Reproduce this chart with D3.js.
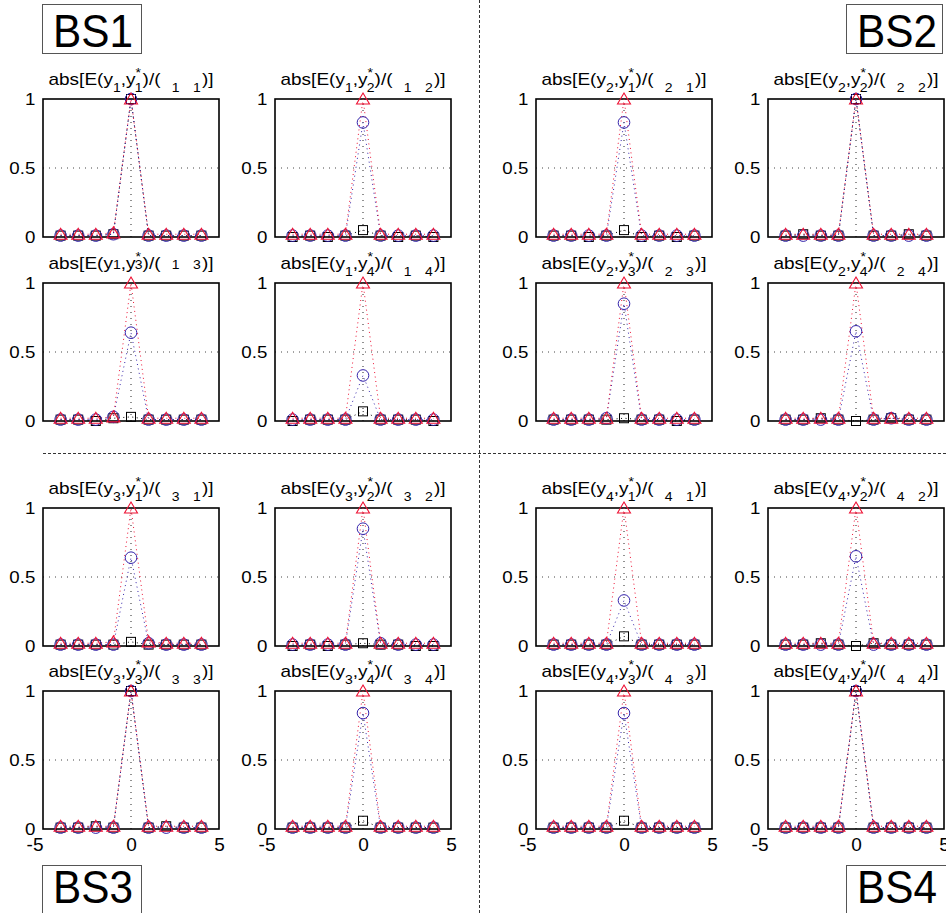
<!DOCTYPE html>
<html>
<head>
<meta charset="utf-8">
<script src="https://cdn.jsdelivr.net/npm/d3@7"></script>
<style>
body { margin: 0; background: #fff; }
text { font-family: "Liberation Sans", Arial, sans-serif; fill: #000; }
</style>
</head>
<body>
<svg id="fig" width="946" height="913"></svg>
<script>
// lags on the x axis
var lags = [-4, -3, -2, -1, 0, 1, 2, 3, 4];

// (i, j) pair of every panel, row by row
var pairs = [
    [1, 1], [1, 2], [2, 1], [2, 2],
    [1, 3], [1, 4], [2, 3], [2, 4],
    [3, 1], [3, 2], [4, 1], [4, 2],
    [3, 3], [3, 4], [4, 3], [4, 4]
];

// black squares
var squareVals = [
    [0.01, 0.01, 0.01, 0.02, 1.00, 0.01, 0.01, 0.01, 0.01],
    [0.00, 0.01, 0.00, 0.01, 0.05, 0.01, 0.00, 0.01, 0.00],
    [0.01, 0.01, 0.00, 0.01, 0.05, 0.00, 0.01, 0.00, 0.01],
    [0.01, 0.02, 0.01, 0.01, 1.00, 0.01, 0.01, 0.02, 0.01],
    [0.01, 0.01, 0.00, 0.02, 0.03, 0.01, 0.01, 0.01, 0.01],
    [0.00, 0.01, 0.01, 0.01, 0.07, 0.01, 0.01, 0.01, 0.00],
    [0.01, 0.01, 0.01, 0.01, 0.02, 0.01, 0.01, 0.00, 0.01],
    [0.01, 0.01, 0.02, 0.01, 0.00, 0.01, 0.02, 0.01, 0.01],
    [0.01, 0.01, 0.01, 0.01, 0.03, 0.01, 0.01, 0.01, 0.01],
    [0.00, 0.01, 0.00, 0.01, 0.02, 0.01, 0.01, 0.00, 0.00],
    [0.01, 0.01, 0.01, 0.01, 0.07, 0.01, 0.01, 0.01, 0.01],
    [0.01, 0.01, 0.02, 0.01, 0.00, 0.02, 0.01, 0.01, 0.01],
    [0.01, 0.01, 0.02, 0.01, 1.00, 0.01, 0.02, 0.01, 0.01],
    [0.01, 0.01, 0.01, 0.01, 0.06, 0.01, 0.01, 0.01, 0.01],
    [0.01, 0.01, 0.01, 0.01, 0.06, 0.01, 0.01, 0.01, 0.01],
    [0.01, 0.01, 0.01, 0.01, 1.00, 0.01, 0.01, 0.01, 0.01]
];

// blue circles
var circleVals = [
    [0.01, 0.01, 0.01, 0.02, 1.00, 0.01, 0.01, 0.01, 0.01],
    [0.01, 0.01, 0.01, 0.01, 0.83, 0.01, 0.01, 0.01, 0.01],
    [0.01, 0.01, 0.01, 0.01, 0.83, 0.01, 0.01, 0.01, 0.01],
    [0.01, 0.01, 0.01, 0.01, 1.00, 0.01, 0.01, 0.01, 0.01],
    [0.01, 0.01, 0.01, 0.03, 0.64, 0.01, 0.01, 0.01, 0.01],
    [0.01, 0.01, 0.01, 0.01, 0.33, 0.01, 0.01, 0.01, 0.01],
    [0.01, 0.01, 0.01, 0.02, 0.85, 0.01, 0.01, 0.01, 0.01],
    [0.01, 0.01, 0.01, 0.01, 0.65, 0.01, 0.02, 0.01, 0.01],
    [0.01, 0.01, 0.01, 0.01, 0.64, 0.02, 0.01, 0.01, 0.01],
    [0.01, 0.01, 0.01, 0.01, 0.85, 0.02, 0.01, 0.01, 0.01],
    [0.01, 0.01, 0.01, 0.01, 0.33, 0.01, 0.01, 0.01, 0.01],
    [0.01, 0.01, 0.01, 0.01, 0.65, 0.01, 0.01, 0.01, 0.01],
    [0.01, 0.01, 0.01, 0.01, 1.00, 0.01, 0.01, 0.01, 0.01],
    [0.01, 0.01, 0.01, 0.01, 0.84, 0.01, 0.01, 0.01, 0.01],
    [0.01, 0.01, 0.01, 0.01, 0.84, 0.01, 0.01, 0.01, 0.01],
    [0.01, 0.01, 0.01, 0.01, 1.00, 0.01, 0.01, 0.01, 0.01]
];

// red triangles
var triangleVals = [
    [0.02, 0.02, 0.02, 0.03, 1.00, 0.02, 0.02, 0.02, 0.02],
    [0.02, 0.02, 0.02, 0.02, 1.00, 0.02, 0.02, 0.02, 0.02],
    [0.02, 0.02, 0.02, 0.02, 1.00, 0.02, 0.02, 0.02, 0.02],
    [0.02, 0.02, 0.02, 0.02, 1.00, 0.02, 0.02, 0.02, 0.02],
    [0.02, 0.02, 0.02, 0.03, 1.00, 0.02, 0.02, 0.02, 0.02],
    [0.02, 0.02, 0.02, 0.02, 1.00, 0.02, 0.02, 0.02, 0.02],
    [0.02, 0.02, 0.02, 0.02, 1.00, 0.02, 0.02, 0.02, 0.02],
    [0.02, 0.02, 0.02, 0.02, 1.00, 0.02, 0.02, 0.02, 0.02],
    [0.02, 0.02, 0.02, 0.03, 1.00, 0.03, 0.02, 0.02, 0.02],
    [0.02, 0.02, 0.02, 0.02, 1.00, 0.02, 0.02, 0.02, 0.02],
    [0.02, 0.02, 0.02, 0.02, 1.00, 0.02, 0.02, 0.02, 0.02],
    [0.02, 0.02, 0.02, 0.02, 1.00, 0.02, 0.02, 0.02, 0.02],
    [0.02, 0.02, 0.02, 0.02, 1.00, 0.02, 0.02, 0.02, 0.02],
    [0.02, 0.02, 0.02, 0.02, 1.00, 0.02, 0.02, 0.02, 0.02],
    [0.02, 0.02, 0.02, 0.02, 1.00, 0.02, 0.02, 0.02, 0.02],
    [0.02, 0.02, 0.02, 0.02, 1.00, 0.02, 0.02, 0.02, 0.02]
];

var yTicks = [0, 0.5, 1];
var xTicks = [-5, 0, 5];
var bsLabels = ["BS1", "BS2", "BS3", "BS4"];

var red = "#ee1133";
var blue = "#3322aa";

var svg = d3.select("#fig");

// panel geometry
var colLeft = [43, 275, 536, 768];
var rowTop = [99, 283, 508, 691];
var panelW = 176;
var panelH = 138;

// dashed separators between the four blocks
svg.append("line")
    .attr("x1", 479.5).attr("x2", 479.5)
    .attr("y1", 0).attr("y2", 913)
    .attr("stroke", "#333").attr("stroke-width", 1)
    .attr("stroke-dasharray", "3,2");
svg.append("line")
    .attr("x1", 43).attr("x2", 946)
    .attr("y1", 453.5).attr("y2", 453.5)
    .attr("stroke", "#333").attr("stroke-width", 1)
    .attr("stroke-dasharray", "3,2");

function addTitle(g, cx, y, p, plain) {
    var sub = plain ? 0 : 7;
    var t = g.append("text")
        .attr("transform", `translate(${cx},${y}) scale(1.12,1)`)
        .attr("text-anchor", "middle")
        .style("font-size", "17px");
    t.append("tspan").text("abs[E(y");
    t.append("tspan").style("font-size", "12.5px").attr("dy", sub).text(p[0]);
    t.append("tspan").attr("dy", -sub).text(",y");
    t.append("tspan").style("font-size", "12.5px").attr("dy", -8).text("*");
    t.append("tspan").style("font-size", "12.5px").attr("dx", -5.5).attr("dy", 8 + sub).text(p[1]);
    t.append("tspan").attr("dy", -sub).text(")/(");
    t.append("tspan").style("font-size", "12.5px").attr("dx", 10).attr("dy", sub).text(p[0]);
    t.append("tspan").style("font-size", "12.5px").attr("dx", 12).text(p[1]);
    t.append("tspan").attr("dx", 1).attr("dy", -sub).text(")]");
}

pairs.forEach(function(p, k) {
    var r = Math.floor(k / 4), c = k % 4;
    var x0 = colLeft[c], y0 = rowTop[r];

    var xScale = d3.scaleLinear().domain([-5, 5]).range([x0, x0 + panelW]);
    var yScale = d3.scaleLinear().domain([0, 1]).range([y0 + panelH, y0]);

    var g = svg.append("g");

    g.append("rect")
        .attr("x", x0).attr("y", y0)
        .attr("width", panelW).attr("height", panelH)
        .attr("fill", "#fff");

    // grid at y = 0.5 and x = 0
    g.append("line")
        .attr("x1", xScale(-5)).attr("x2", xScale(5))
        .attr("y1", yScale(0.5)).attr("y2", yScale(0.5))
        .attr("stroke", "#444").attr("stroke-dasharray", "1,5");
    g.append("line")
        .attr("x1", xScale(0)).attr("x2", xScale(0))
        .attr("y1", yScale(0)).attr("y2", yScale(1))
        .attr("stroke", "#222").attr("stroke-dasharray", "1,5");

    g.append("rect")
        .attr("x", x0).attr("y", y0)
        .attr("width", panelW).attr("height", panelH)
        .attr("fill", "none").attr("stroke", "#000").attr("stroke-width", 1.6);

    var line = d3.line()
        .x((d, i) => xScale(lags[i]))
        .y(d => yScale(d));

    var series = [
        { vals: squareVals[k], color: "#000" },
        { vals: circleVals[k], color: blue },
        { vals: triangleVals[k], color: red }
    ];
    series.forEach(function(s) {
        g.append("path")
            .attr("d", line(s.vals))
            .attr("fill", "none")
            .attr("stroke", s.color)
            .attr("stroke-width", 1)
            .attr("stroke-dasharray", "1,3.5");
    });

    g.append("g").selectAll("rect")
        .data(squareVals[k])
        .enter()
        .append("rect")
        .attr("x", (d, i) => xScale(lags[i]) - 4.5)
        .attr("y", d => yScale(d) - 4.5)
        .attr("width", 9).attr("height", 9)
        .attr("fill", "none").attr("stroke", "#000").attr("stroke-width", 1);

    g.append("g").selectAll("circle")
        .data(circleVals[k])
        .enter()
        .append("circle")
        .attr("cx", (d, i) => xScale(lags[i]))
        .attr("cy", d => yScale(d))
        .attr("r", 5.8)
        .attr("fill", "none").attr("stroke", blue).attr("stroke-width", 1);

    g.append("g").selectAll("path")
        .data(triangleVals[k])
        .enter()
        .append("path")
        .attr("transform", (d, i) => `translate(${xScale(lags[i])},${yScale(d)})`)
        .attr("d", "M0,-6L6.5,5L-6.5,5Z")
        .attr("fill", "none").attr("stroke", red).attr("stroke-width", 1.1);

    // y axis labels
    var yAxis = g.append("g")
        .attr("transform", `translate(${x0},0)`)
        .call(d3.axisLeft(yScale).tickValues(yTicks).tickSize(0).tickPadding(7).tickFormat(String));
    yAxis.select(".domain").remove();
    yAxis.selectAll("text")
        .attr("transform", "scale(1.1,1)")
        .style("font-size", "17px")
        .style("font-family", "'Liberation Sans', Arial, sans-serif");

    // x axis labels only on the bottom row
    if (r === 3) {
        var xAxis = g.append("g")
            .attr("transform", `translate(0,${y0 + panelH})`)
            .call(d3.axisBottom(xScale).tickValues(xTicks).tickSize(0).tickPadding(9).tickFormat(String));
        xAxis.select(".domain").remove();
        xAxis.selectAll("text")
            .style("font-size", "19px")
            .style("font-family", "'Liberation Sans', Arial, sans-serif")
            .attr("text-anchor", d => d < 0 ? "end" : "middle");
    }

    addTitle(g, x0 + panelW / 2, y0 - 14, p, p[0] === 1 && p[1] === 3);
});

// block labels
var bsBoxes = [
    { x: 42, y: 4, w: 99, h: 49, base: 47 },
    { x: 846, y: 4, w: 96, h: 49, base: 47 },
    { x: 42, y: 865, w: 99, h: 60, base: 903 },
    { x: 846, y: 865, w: 110, h: 60, base: 903 }
];
bsLabels.forEach(function(lab, i) {
    var b = bsBoxes[i];
    svg.append("rect")
        .attr("x", b.x + 0.5).attr("y", b.y + 0.5)
        .attr("width", b.w).attr("height", b.h)
        .attr("fill", "#fff").attr("stroke", "#555").attr("stroke-width", 1);
    var cx = i % 2 === 0 ? 93 : 897;
    svg.append("text")
        .attr("transform", `translate(${cx},${b.base}) scale(0.92,1)`)
        .attr("text-anchor", "middle")
        .style("font-size", "46px")
        .text(lab);
});
</script>
</body>
</html>
